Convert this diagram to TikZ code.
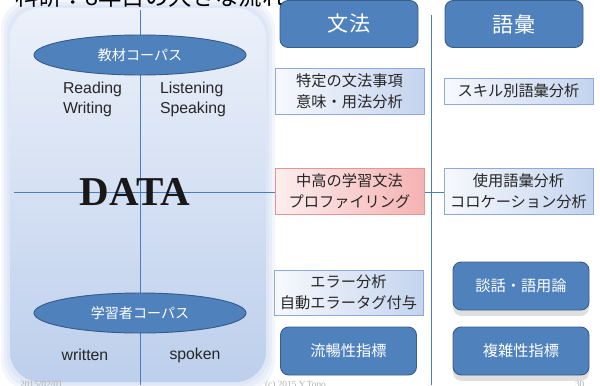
\documentclass[tikz,border=0pt]{standalone}
\usepackage{fontspec}
\setmainfont{Liberation Sans}
\newfontfamily\jpfont{Noto Sans CJK JP}
\newfontfamily\seriffont{Liberation Serif}
\usetikzlibrary{backgrounds}
\usetikzlibrary{positioning,shapes.geometric,shadows}

\definecolor{boxblue}{RGB}{79,129,189}
\definecolor{edgeblue}{RGB}{56,93,138}
\definecolor{lineblue}{RGB}{74,126,187}
\definecolor{lightedge}{RGB}{141,170,218}
\definecolor{lightleft}{RGB}{247,249,253}
\definecolor{lightright}{RGB}{196,212,238}
\definecolor{pinkleft}{RGB}{253,238,238}
\definecolor{pinkright}{RGB}{245,178,178}
\definecolor{pinkedge}{RGB}{228,150,150}
\definecolor{paneltop}{RGB}{236,241,250}
\definecolor{panelbot}{RGB}{189,207,236}
\definecolor{footgray}{RGB}{175,175,175}

\begin{document}
\begin{tikzpicture}[x=0.03cm,y=-0.03cm,
every node/.style={inner sep=0pt,outer sep=0pt},
hdr/.style={draw=edgeblue,fill=boxblue,line width=0.8pt,rounded corners=7pt,
  text=white,font=\jpfont\fontsize{18}{22}\selectfont,
  minimum width=4.14cm,minimum height=1.41cm},
tag/.style={draw=edgeblue,fill=boxblue,line width=0.8pt,rounded corners=7pt,
  text=white,font=\jpfont\fontsize{13}{18}\selectfont,
  minimum width=4.08cm,minimum height=1.44cm},
item/.style={draw=lightedge,left color=lightleft,right color=lightright,line width=0.8pt,
  text=black!85,font=\jpfont\fontsize{13}{18}\selectfont,align=center,
  minimum width=4.47cm,minimum height=1.38cm},
corpus/.style={ellipse,draw=edgeblue,fill=boxblue,line width=0.8pt,
  text=white,font=\jpfont\fontsize{12}{14}\selectfont,
  minimum width=6.36cm,minimum height=1.2cm},
skill/.style={font=\fontsize{13.5}{17}\selectfont,align=left,text=black!85},
axis/.style={lineblue,line width=0.7pt},
foot/.style={anchor=base west,text=footgray,font=\seriffont\fontsize{8}{9}\selectfont}]

\clip (0,0) rectangle (600,385);
\useasboundingbox (0,0) rectangle (600,385);

% title (cut off at the top)
\node[anchor=base west,font=\jpfont\fontsize{20}{24}\selectfont] (title) at (15,5) {科研：8年目の大きな流れ};

% data side
\node[corpus] (tcorp) at (140,55) {教材コーパス};
\node[skill,anchor=north west] (rw) at (63,82) {Reading\\Writing};
\node[skill,anchor=north west] (ls) at (160,82) {Listening\\Speaking};
\node[anchor=base,font=\seriffont\bfseries\fontsize{35}{40}\selectfont,text=black!90] (data) at (135,205) {DATA};
\node[corpus] (lcorp) at (140,313) {学習者コーパス};
\node[skill] (wr) at (85,355) {written};
\node[skill] (sp) at (195,355) {spoken};

% grammar column
\node[hdr] (gram) at (349,24) {文法};
\node[item] (spec) at (349.5,91) {特定の文法事項\\意味・用法分析};
\node[item,left color=pinkleft,right color=pinkright,draw=pinkedge] (prof) at (349.5,191) {中高の学習文法\\プロファイリング};
\node[item,minimum height=1.35cm] (err) at (348.5,292.5) {エラー分析\\自動エラータグ付与};
\node[tag] (flu) at (348.5,351) {流暢性指標};

% vocabulary column
\node[hdr] (voc) at (514,24) {語彙};
\node[item,minimum height=0.78cm] (skl) at (518.5,91) {スキル別語彙分析};
\node[item] (usage) at (518.5,191) {使用語彙分析\\コロケーション分析};
\node[tag,drop shadow={shadow xshift=0pt,shadow yshift=-5pt,opacity=.25}] (disc) at (521,286) {談話・語用論};
\node[tag,drop shadow={shadow xshift=0pt,shadow yshift=-5pt,opacity=.25}] (comp) at (521,351) {複雑性指標};

% footer
\node[foot] (date) at (20,387) {2015/02/01};
\node[foot] (copy) at (265,387) {(c) 2015 Y.Tono};
\node[foot] (page) at (575,387) {30};

\coordinate (ltop) at (140,10);
\coordinate (lbot) at (140,385);
\coordinate (hleft) at (14,192);
\coordinate (rtop) at (431,15);
\coordinate (rbot) at (431,385);

\begin{scope}[on background layer]
  \foreach \g in {9,6,3}
    \fill[panelbot,opacity=0.2,rounded corners=26pt] (10-\g,8-\g) rectangle (266+\g,382+\g);
  \shade[top color=paneltop,bottom color=panelbot,rounded corners=26pt] (10,8) rectangle (266,382);
  \draw[axis] (ltop) -- (lbot);
  \draw[axis] (hleft) -- (hleft -| usage.west);
  \draw[axis] (rtop) -- (rbot);
\end{scope}
\end{tikzpicture}
\end{document}
